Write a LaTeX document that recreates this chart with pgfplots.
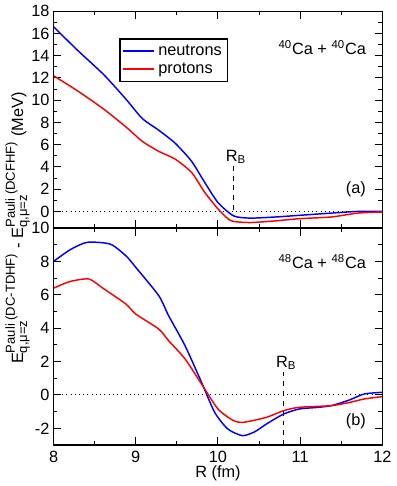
\documentclass[border=0pt]{standalone}
\usepackage{pgfplots}
\pgfplotsset{compat=1.18}
\usepackage{amsmath}
\usepackage{fontspec}
\setmainfont{Liberation Sans}

\newcommand{\lbl}{\fontsize{10}{12}\selectfont}

\pgfplotsset{
  panel/.style={
    scale only axis, width=201.6pt, height=133pt,
    xmin=8, xmax=12,
    xtick={8,9,10,11,12}, minor x tick num=1, minor y tick num=1,
    tick align=inside,
    major tick length=4.8pt, minor tick length=2.4pt,
    every tick/.style={black, line width=0.6pt},
    axis line style={line width=0.8pt},
    tick label style={font=\lbl},
    yticklabel style={xshift=1pt},
    /pgf/number format/assume math mode=true,
    clip=true,
  },
  nline/.style={blue, line width=0.9pt, smooth, tension=0.4},
  pline/.style={red, line width=0.9pt, smooth, tension=0.4},
}

\begin{document}
\begin{tikzpicture}
% lower panel: 48Ca + 48Ca
\begin{axis}[panel, name=bot, at={(0,0)},
  ymin=-3, ymax=10, ytick={-2,0,2,4,6,8,10},
  xlabel={R (fm)}, xlabel style={font=\lbl, yshift=5pt},
]
  \addplot[black, dotted, line width=0.6pt] coordinates {(8,0) (12,0)};
  \addplot[black, dashed, line width=0.6pt] coordinates {(10.8,1.4) (10.8,-3)};
  \addplot[nline] coordinates {
    (8,8.0) (8.2,8.7) (8.41,9.15) (8.69,9.04) (8.88,8.34) (9.0,7.65)
    (9.28,5.95) (9.4,4.75) (9.6,2.95) (9.8,0.76) (9.96,-1.04) (10.12,-2.04)
    (10.3,-2.44) (10.45,-2.2) (10.59,-1.74) (10.8,-1.14) (10.99,-0.84)
    (11.2,-0.75) (11.38,-0.64) (11.6,-0.3) (11.78,0.06) (12,0.16)
  };
  \addplot[pline] coordinates {
    (8,6.4) (8.2,6.8) (8.43,6.95) (8.6,6.4) (8.88,5.45) (9.0,4.85)
    (9.28,3.95) (9.4,3.25) (9.6,2.16) (9.8,0.66) (10.0,-0.84) (10.19,-1.54)
    (10.31,-1.64) (10.59,-1.34) (10.8,-0.94) (10.99,-0.74) (11.38,-0.64)
    (11.6,-0.45) (11.78,-0.24) (12,-0.1)
  };
  \node[anchor=east, font=\lbl] at (axis cs:11.87,8.0) {\textsuperscript{48}Ca + \textsuperscript{48}Ca};
  \node[anchor=east, font=\lbl] at (axis cs:11.87,-1.55) {(b)};
  \node[anchor=south, font=\lbl, inner sep=1pt] at (axis cs:10.83,1.4) {R\textsubscript{B}};
\end{axis}

% upper panel: 40Ca + 40Ca
\begin{axis}[panel, name=top, at={(0,133pt)},
  ymin=-1.5, ymax=18, ytick={0,2,...,18},
  xticklabels={},
  legend style={at={(0.2,0.875)}, anchor=north west, draw=black,
    line width=0.8pt, font=\lbl, inner sep=1.5pt, row sep=-1pt},
  legend cell align=left,
]
  \addplot[black, dotted, line width=0.6pt, forget plot] coordinates {(8,0) (12,0)};
  \addplot[black, dashed, line width=0.6pt, forget plot] coordinates {(10.19,4.1) (10.19,-0.4)};
  \addplot[nline, forget plot] coordinates {
    (8,16.6) (8.29,14.5) (8.61,12.3) (8.88,10.1) (9.08,8.35) (9.28,7.3)
    (9.48,6.13) (9.68,4.5) (9.84,2.6) (10.0,0.8) (10.19,-0.4) (10.39,-0.6)
    (10.7,-0.5) (10.99,-0.35) (11.38,-0.15) (11.7,0.0) (12,0.0)
  };
  \addplot[pline, forget plot] coordinates {
    (8,12.2) (8.29,10.85) (8.61,9.2) (8.88,7.6) (9.08,6.3) (9.28,5.4)
    (9.48,4.7) (9.68,3.5) (9.84,1.7) (10.0,0.23) (10.12,-0.65) (10.19,-0.9)
    (10.39,-1.0) (10.7,-0.85) (10.99,-0.65) (11.38,-0.5) (11.7,-0.15) (12,-0.05)
  };
  \addlegendimage{blue, line width=1pt, legend image code/.code={\draw[blue, line width=1pt] (0pt,0pt) -- (19pt,0pt);}}
  \addlegendentry{neutrons}
  \addlegendimage{red, line width=1pt, legend image code/.code={\draw[red, line width=1pt] (0pt,0pt) -- (19pt,0pt);}}
  \addlegendentry{protons}
  \node[anchor=east, font=\lbl] at (axis cs:11.87,14.7) {\textsuperscript{40}Ca + \textsuperscript{40}Ca};
  \node[anchor=east, font=\lbl] at (axis cs:11.87,2.0) {(a)};
  \node[anchor=south, font=\lbl, inner sep=1pt] at (axis cs:10.22,4.1) {R\textsubscript{B}};
\end{axis}

% shared y label
\node[rotate=90, font=\lbl] at ([xshift=-22pt]bot.north west)
  {E$^{\text{\footnotesize Pauli (DC-TDHF)}}_{\text{\footnotesize q,μ=z}}$ - E$^{\text{\footnotesize Pauli (DCFHF)}}_{\text{\footnotesize q,μ=z}}$ (MeV)};
\end{tikzpicture}
\end{document}
